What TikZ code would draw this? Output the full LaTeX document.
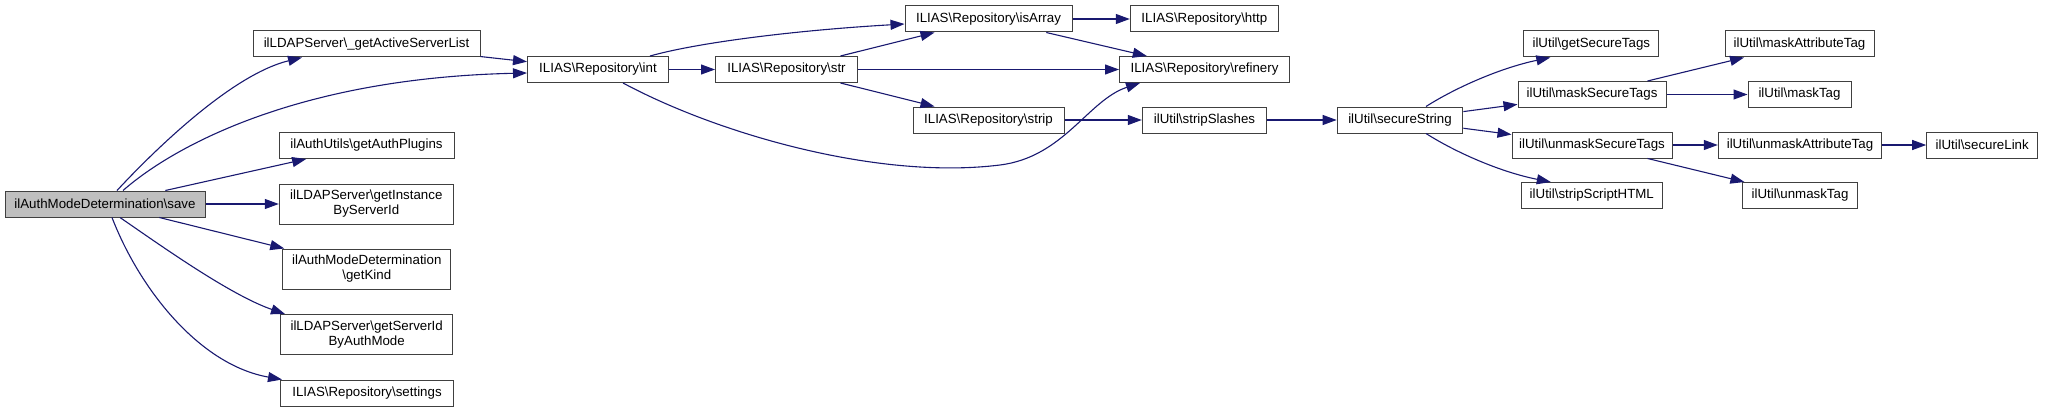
\documentclass[tikz,border=0pt]{standalone}
\usepackage{fontspec}
\setmainfont{Liberation Sans}
\usetikzlibrary{arrows.meta}
\definecolor{edgeblue}{HTML}{191970}
\definecolor{boxline}{HTML}{404040}
\definecolor{boxfill}{HTML}{BFBFBF}
\tikzset{
  fn/.style={draw=boxline, line width=1pt, fill=white, inner sep=0pt, align=center,
    font=\fontsize{13.3}{15}\selectfont},
  fnw/.style={minimum width=#1pt},
  one/.style={minimum height=26pt},
  two/.style={minimum height=40pt},
  edge/.style={draw=edgeblue, line width=1.1pt, -{Triangle[length=14pt,width=10pt]}}
}
\begin{document}
\begin{tikzpicture}[x=1pt,y=-1pt]
\useasboundingbox (0,0) rectangle (2064,412);
% nodes
\node[fn,fnw=200,one,fill=boxfill] (save) at (105,204) {ilAuthModeDetermination\textbackslash save};
\node[fn,fnw=227,one] (gasl) at (366.5,44) {ilLDAPServer\textbackslash\_getActiveServerList};
\node[fn,fnw=175,one] (gap) at (366.5,145.5) {ilAuthUtils\textbackslash getAuthPlugins};
\node[fn,fnw=174,two] (gis) at (366.3,204) {ilLDAPServer\textbackslash getInstance\\ByServerId};
\node[fn,fnw=168,two] (gk) at (366.8,269) {ilAuthModeDetermination\\\textbackslash getKind};
\node[fn,fnw=172,two] (gsid) at (366.7,334.5) {ilLDAPServer\textbackslash getServerId\\ByAuthMode};
\node[fn,fnw=173,one] (set) at (367,393) {ILIAS\textbackslash Repository\textbackslash settings};
\node[fn,fnw=141,one] (int) at (598,69.5) {ILIAS\textbackslash Repository\textbackslash int};
\node[fn,fnw=142,one] (str) at (786.5,69.5) {ILIAS\textbackslash Repository\textbackslash str};
\node[fn,fnw=167,one] (isa) at (988.5,19) {ILIAS\textbackslash Repository\textbackslash isArray};
\node[fn,fnw=151,one] (strip) at (988.5,120) {ILIAS\textbackslash Repository\textbackslash strip};
\node[fn,fnw=148,one] (http) at (1204.3,19) {ILIAS\textbackslash Repository\textbackslash http};
\node[fn,fnw=170,one] (ref) at (1204.5,69.5) {ILIAS\textbackslash Repository\textbackslash refinery};
\node[fn,fnw=124.4,one] (ss) at (1204.5,120) {ilUtil\textbackslash stripSlashes};
\node[fn,fnw=125.7,one] (sec) at (1400,120) {ilUtil\textbackslash secureString};
\node[fn,fnw=134.7,one] (gst) at (1591.3,44) {ilUtil\textbackslash getSecureTags};
\node[fn,fnw=148,one] (mst) at (1592,94.5) {ilUtil\textbackslash maskSecureTags};
\node[fn,fnw=160,one] (ust) at (1592,145) {ilUtil\textbackslash unmaskSecureTags};
\node[fn,fnw=141,one] (ssh) at (1591.8,195.5) {ilUtil\textbackslash stripScriptHTML};
\node[fn,fnw=149,one] (mat) at (1799.5,44) {ilUtil\textbackslash maskAttributeTag};
\node[fn,fnw=103,one] (mt) at (1799.5,94.5) {ilUtil\textbackslash maskTag};
\node[fn,fnw=163.4,one] (uat) at (1800,145) {ilUtil\textbackslash unmaskAttributeTag};
\node[fn,fnw=115.7,one] (ut) at (1800,195.5) {ilUtil\textbackslash unmaskTag};
\node[fn,fnw=111,one] (sl) at (1982.2,145) {ilUtil\textbackslash secureLink};
% edges
\draw[edge] ([xshift=12pt]save.north) .. controls (150,155) and (230,75) .. ([xshift=-64.5pt]gasl.south);
\draw[edge] ([xshift=18pt]save.north) .. controls (175,145) and (300,78) .. ([yshift=-3.5pt]int.west);
\draw[edge] (gasl) -- (int);
\draw[edge] (save) -- (gap);
\draw[edge] (save) -- (gis);
\draw[edge] (save) -- (gk);
\draw[edge] ([xshift=15pt]save.south) .. controls (160,245) and (230,295) .. ([xshift=-81.7pt]gsid.north);
\draw[edge] ([xshift=7pt]save.south) .. controls (140,290) and (200,365) .. ([xshift=-85pt]set.north);
\draw[edge] ([xshift=52pt]int.north) .. controls (700,42) and (800,30) .. ([yshift=-5pt]isa.west);
\draw[edge] (int) -- (str);
\draw[edge] ([xshift=25pt]int.south) .. controls (720,135) and (880,180) .. (1000,165)
  .. controls (1064,157) and (1088,100) .. ([xshift=-64.5pt]ref.south);
\draw[edge] (str) -- (isa);
\draw[edge] (str) -- (ref);
\draw[edge] (str) -- (strip);
\draw[edge] (isa) -- (http);
\draw[edge] (isa) -- (ref);
\draw[edge] (strip) -- (ss);
\draw[edge] (ss) -- (sec);
\draw[edge] ([xshift=26pt]sec.north) .. controls (1455,88) and (1500,68) .. ([xshift=-41pt]gst.south);
\draw[edge] (sec) -- (mst);
\draw[edge] (sec) -- (ust);
\draw[edge] ([xshift=26pt]sec.south) .. controls (1455,152) and (1500,172) .. ([xshift=-41pt]ssh.north);
\draw[edge] (mst) -- (mat);
\draw[edge] (mst) -- (mt);
\draw[edge] (ust) -- (uat);
\draw[edge] (ust) -- (ut);
\draw[edge] (uat) -- (sl);
\end{tikzpicture}
\end{document}
